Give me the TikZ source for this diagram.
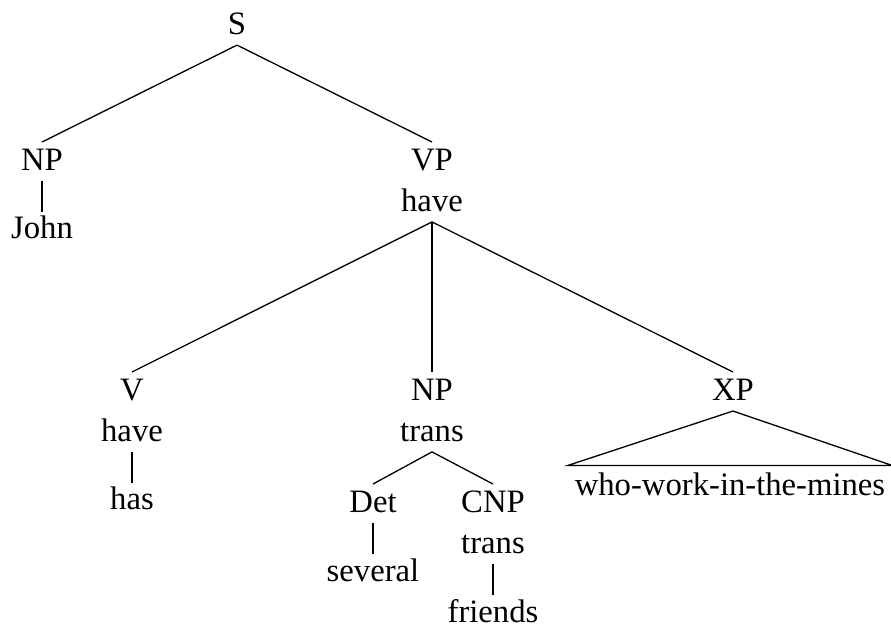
\documentclass[tikz,border=0pt]{standalone}
\usepackage{fontspec}
\setmainfont{Liberation Serif}
\usetikzlibrary{positioning}

\begin{document}
\begin{tikzpicture}[
    x=0.306pt, y=0.306pt,
    node distance=9.5pt,
    cat/.style={anchor=north, inner sep=2pt, align=center,
        font=\fontsize{10}{12.4}\selectfont},
    branch/.style={draw=black, line width=0.4pt},
]
\useasboundingbox (0,0) rectangle (891,-623);

% ---- top level ----
\node (s)    [cat] at (237,-5.5) {S};
\node (np)   [cat] at (42,-142)  {NP};
\node (vp)   [cat] at (432,-142) {VP\\have};
\node (john) [cat, below=of np]  {John};

% ---- VP daughters ----
\node (v)   [cat] at (132,-372) {V\\have};
\node (obj) [cat] at (432,-372) {NP\\trans};
\node (xp)  [cat] at (733,-372) {XP};
\node (has) [cat, below=of v]   {has};

% ---- object NP ----
\node (det)     [cat] at (373,-484) {Det};
\node (cnp)     [cat] at (493,-484) {CNP\\trans};
\node (several) [cat, below=of det] {several};
\node (friends) [cat, below=of cnp] {friends};

% ---- XP (unanalysed) ----
\node (rel) [cat] at (730,-465.5) {who-work-in-the-mines};

% ---- branches ----
\draw[branch] ([yshift=-1pt]s.south) -- (np.north);
\draw[branch] ([yshift=-1pt]s.south) -- (vp.north);
\draw[branch] ([yshift=-1pt]vp.south) -- (v.north);
\draw[branch] ([yshift=-1pt]vp.south) -- (obj.north);
\draw[branch] ([yshift=-1pt]vp.south) -- (xp.north);
\draw[branch] ([yshift=-1pt]obj.south) -- (det.north);
\draw[branch] ([yshift=-1pt]obj.south) -- (cnp.north);
\draw[branch] ([yshift=-1pt]xp.south) -- (rel.north west) -- (rel.north east) -- cycle;

% ---- unary branches ----
\draw[branch] ([yshift=-1pt]np.south) -- ([yshift=-1pt]john.north);
\draw[branch] ([yshift=-1pt]v.south) -- ([yshift=-1pt]has.north);
\draw[branch] ([yshift=-1pt]det.south) -- ([yshift=-1pt]several.north);
\draw[branch] ([yshift=-1pt]cnp.south) -- ([yshift=-1pt]friends.north);

\end{tikzpicture}
\end{document}
